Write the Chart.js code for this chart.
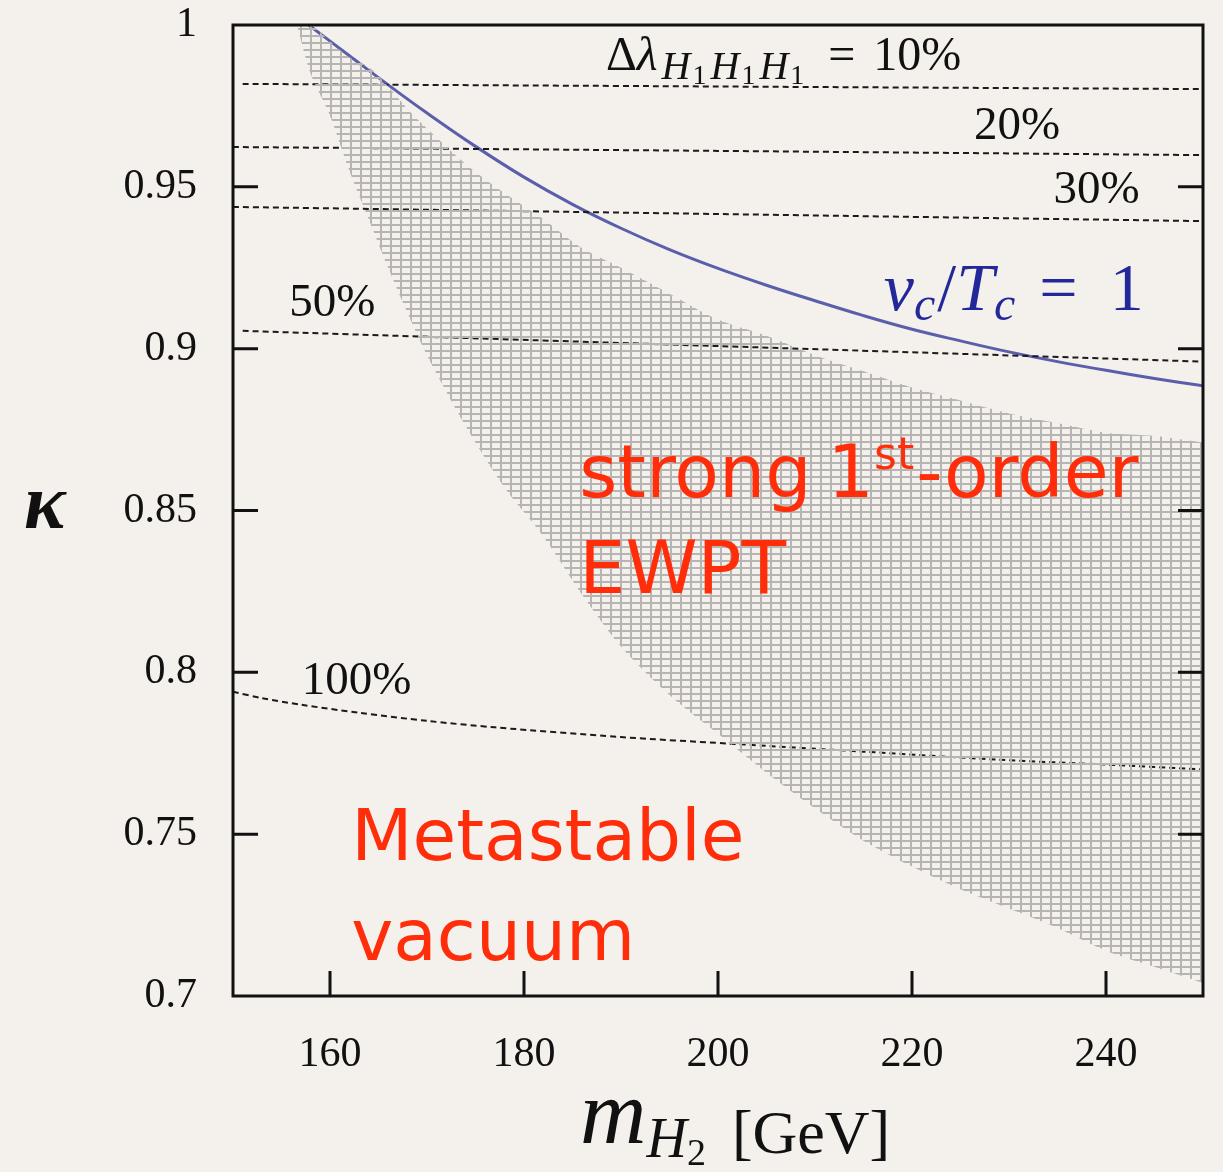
<!DOCTYPE html>
<html>
<head>
<meta charset="utf-8">
<script src="https://cdn.jsdelivr.net/npm/chart.js@4.4.1/dist/chart.umd.min.js"></script>
<style>
  html, body { margin: 0; padding: 0; background: #f4f1ec; }
  canvas { display: block; }
</style>
</head>
<body>
<canvas id="kappaChart" width="1223" height="1172"></canvas>
<script>
document.addEventListener('DOMContentLoaded', function () {
    "use strict";

    // axis ticks
    var massTicks = [160, 180, 200, 220, 240];
    var kappaTicks = [0.7, 0.75, 0.8, 0.85, 0.9, 0.95, 1];

    // strong 1st-order EWPT band (hatched)
    var bandMass  = [156.6, 158, 160, 162, 164, 166, 168, 170, 174, 178, 182, 186, 190, 195, 200, 205, 210, 215, 220, 225, 230, 235, 240, 245, 250];
    var bandLower = [1.000, 0.985, 0.972, 0.955, 0.940, 0.925, 0.911, 0.898, 0.876, 0.857, 0.842, 0.824, 0.808, 0.793, 0.781, 0.769, 0.758, 0.748, 0.740, 0.733, 0.727, 0.721, 0.714, 0.709, 0.704];
    var bandUpper = [1.000, 1.000, 0.995, 0.990, 0.987, 0.981, 0.974, 0.968, 0.957, 0.948, 0.940, 0.931, 0.925, 0.917, 0.909, 0.904, 0.898, 0.893, 0.888, 0.884, 0.880, 0.877, 0.874, 0.873, 0.871];

    // v_c / T_c = 1 contour
    var vcMass  = [157.8, 162, 166, 170, 175, 180, 185, 190, 195, 200, 205, 210, 215, 220, 225, 230, 235, 240, 245, 250];
    var vcKappa = [1.000, 0.9905, 0.9815, 0.9728, 0.9625, 0.9530, 0.9446, 0.9372, 0.9306, 0.9248, 0.9196, 0.9148, 0.9102, 0.9060, 0.9024, 0.8990, 0.8960, 0.8933, 0.8908, 0.8885];

    // Δλ contours
    var dl10Mass = [151, 200, 250];
    var dl10Kappa = [0.9818, 0.9810, 0.9802];
    var dl20Mass = [150, 200, 250];
    var dl20Kappa = [0.9623, 0.9611, 0.9598];
    var dl30Mass = [150, 200, 250];
    var dl30Kappa = [0.9438, 0.9416, 0.9394];
    var dl50Mass = [151, 200, 250];
    var dl50Kappa = [0.9055, 0.9008, 0.8960];
    var dl100Mass = [150, 153, 157, 163, 170, 177, 190, 201, 215, 229, 240, 250];
    var dl100Kappa = [0.794, 0.792, 0.790, 0.7875, 0.785, 0.783, 0.780, 0.778, 0.7755, 0.773, 0.7715, 0.770];

    function pts(xs, ys) {
        return xs.map(function (x, i) { return { x: x, y: ys[i] }; });
    }

    // hatch pattern for the band
    var pc = document.createElement('canvas');
    pc.width = 10;
    pc.height = 7;
    var pctx = pc.getContext('2d');
    pctx.fillStyle = '#b6b5b3';
    pctx.fillRect(0, 0, 2, 7);
    pctx.fillRect(0, 0, 10, 2);
    var hatch = pctx.createPattern(pc, 'repeat');

    var SERIF = '"Liberation Serif", "DejaVu Serif", serif';
    var RED = '#ff2d0a';
    var BLUE = '#22289a';

    function dashed(data) {
        return {
            data: data,
            borderColor: '#1a1a1a',
            borderWidth: 2,
            borderDash: [6, 4],
            pointRadius: 0,
            fill: false,
            tension: 0.3
        };
    }

    function runs(c, x, y, list, color) {
        c.fillStyle = color;
        c.textBaseline = 'alphabetic';
        c.textAlign = 'left';
        list.forEach(function (r) {
            c.font = r.f;
            x += r.dx || 0;
            c.fillText(r.t, x, y + (r.dy || 0));
            x += c.measureText(r.t).width;
        });
    }

    var bgPlugin = {
        id: 'bg',
        beforeDraw: function (chart) {
            var c = chart.ctx;
            c.save();
            c.fillStyle = '#f4f1ec';
            c.fillRect(0, 0, chart.width, chart.height);
            c.restore();
        }
    };

    var framePlugin = {
        id: 'frame',
        afterDraw: function (chart) {
            var c = chart.ctx, a = chart.chartArea;
            var xs = chart.scales.x, ys = chart.scales.y;
            c.save();
            c.strokeStyle = '#111';
            c.lineWidth = 3;
            c.strokeRect(a.left, a.top, a.right - a.left, a.bottom - a.top);
            c.beginPath();
            kappaTicks.slice(1, -1).forEach(function (v) {
                var py = ys.getPixelForValue(v);
                c.moveTo(a.left, py); c.lineTo(a.left + 25, py);
                c.moveTo(a.right, py); c.lineTo(a.right - 25, py);
            });
            massTicks.forEach(function (v) {
                var px = xs.getPixelForValue(v);
                c.moveTo(px, a.bottom); c.lineTo(px, a.bottom - 25);
            });
            c.stroke();

            function X(v) { return xs.getPixelForValue(v); }
            function Y(v) { return ys.getPixelForValue(v); }

            // contour labels
            runs(c, X(188.45), Y(0.9861), [
                { t: 'Δ', f: '48px ' + SERIF },
                { t: 'λ', f: 'italic 48px ' + SERIF },
                { t: 'H', f: 'italic 40px ' + SERIF, dy: 9, dx: 4 },
                { t: '1', f: '28px ' + SERIF, dy: 14, dx: 2 },
                { t: 'H', f: 'italic 40px ' + SERIF, dy: 9, dx: 4 },
                { t: '1', f: '28px ' + SERIF, dy: 14, dx: 2 },
                { t: 'H', f: 'italic 40px ' + SERIF, dy: 9, dx: 4 },
                { t: '1', f: '28px ' + SERIF, dy: 14, dx: 2 },
                { t: '=', f: '48px ' + SERIF, dx: 24 },
                { t: '10%', f: '48px ' + SERIF, dx: 18 }
            ], '#111');
            runs(c, X(226.4), Y(0.9648), [{ t: '20%', f: '47px ' + SERIF }], '#111');
            runs(c, X(234.6), Y(0.9450), [{ t: '30%', f: '47px ' + SERIF }], '#111');
            runs(c, X(155.8), Y(0.9100), [{ t: '50%', f: '47px ' + SERIF }], '#111');
            runs(c, X(157.1), Y(0.7933), [{ t: '100%', f: '47px ' + SERIF }], '#111');

            runs(c, X(217.1), Y(0.9120), [
                { t: 'v', f: 'italic 68px ' + SERIF },
                { t: 'c', f: 'italic 48px ' + SERIF, dy: 10 },
                { t: '/', f: '68px ' + SERIF, dx: 2 },
                { t: 'T', f: 'italic 68px ' + SERIF },
                { t: 'c', f: 'italic 48px ' + SERIF, dy: 10 },
                { t: '=', f: '68px ' + SERIF, dx: 24 },
                { t: '1', f: '68px ' + SERIF, dx: 32 }
            ], BLUE);

            // region labels
            var RF = '"DejaVu Sans", sans-serif';
            runs(c, X(185.7), Y(0.8542), [
                { t: 'strong', f: '73px ' + RF },
                { t: '1', f: '73px ' + RF, dx: 16 },
                { t: 'st', f: '44px ' + RF, dy: -28 },
                { t: '-order', f: '73px ' + RF, dx: 2 }
            ], RED);
            runs(c, X(185.7), Y(0.8245), [{ t: 'EWPT', f: '73px ' + RF }], RED);
            runs(c, X(162.2), Y(0.7420), [{ t: 'Metastable', f: '71px ' + RF }], RED);
            runs(c, X(162.2), Y(0.7111), [{ t: 'vacuum', f: '71px ' + RF }], RED);

            // axis titles
            runs(c, 24, 528, [{ t: 'κ', f: 'italic bold 78px ' + SERIF }], '#111');
            runs(c, 580, 1143, [
                { t: 'm', f: 'italic 92px ' + SERIF },
                { t: 'H', f: 'italic 56px ' + SERIF, dy: 14 },
                { t: '2', f: '38px ' + SERIF, dy: 22 },
                { t: '[GeV]', f: '62px ' + SERIF, dx: 26, dy: 10 }
            ], '#111');
            c.restore();
        }
    };

    var ctx = document.getElementById('kappaChart');
    var myChart = new Chart(ctx, {
        type: 'line',
        data: {
            datasets: [
                {
                    data: pts(bandMass, bandLower),
                    borderWidth: 0,
                    pointRadius: 0,
                    fill: false,
                    tension: 0.3
                },
                {
                    data: pts(bandMass, bandUpper),
                    borderWidth: 0,
                    pointRadius: 0,
                    backgroundColor: hatch,
                    fill: '-1',
                    tension: 0.3
                },
                dashed(pts(dl10Mass, dl10Kappa)),
                dashed(pts(dl20Mass, dl20Kappa)),
                dashed(pts(dl30Mass, dl30Kappa)),
                dashed(pts(dl50Mass, dl50Kappa)),
                dashed(pts(dl100Mass, dl100Kappa)),
                {
                    data: pts(vcMass, vcKappa),
                    borderColor: '#5b5fab',
                    borderWidth: 3,
                    pointRadius: 0,
                    fill: false,
                    tension: 0.4
                }
            ]
        },
        options: {
            responsive: false,
            animation: false,
            layout: { padding: { top: 25, right: 20, left: 0, bottom: 0 } },
            plugins: {
                legend: { display: false },
                tooltip: { enabled: false }
            },
            scales: {
                x: {
                    type: 'linear',
                    min: 150,
                    max: 250,
                    grid: { display: false },
                    border: { display: false },
                    afterBuildTicks: function (s) {
                        s.ticks = massTicks.map(function (v) { return { value: v }; });
                    },
                    afterFit: function (s) {
                        s.height = 176;
                        s.paddingLeft = 0;
                        s.paddingRight = 0;
                    },
                    ticks: {
                        padding: 26,
                        color: '#111',
                        font: { family: SERIF, size: 42 },
                        maxRotation: 0
                    }
                },
                y: {
                    min: 0.7,
                    max: 1,
                    grid: { display: false },
                    border: { display: false },
                    afterBuildTicks: function (s) {
                        s.ticks = kappaTicks.map(function (v) { return { value: v }; });
                    },
                    afterFit: function (s) {
                        s.width = 233;
                        s.paddingTop = 0;
                        s.paddingBottom = 0;
                    },
                    ticks: {
                        padding: 28,
                        color: '#111',
                        font: { family: SERIF, size: 42 },
                        callback: function (v) { return String(Number(v.toFixed(2))); }
                    }
                }
            }
        },
        plugins: [bgPlugin, framePlugin]
    });
});
</script>
</body>
</html>
